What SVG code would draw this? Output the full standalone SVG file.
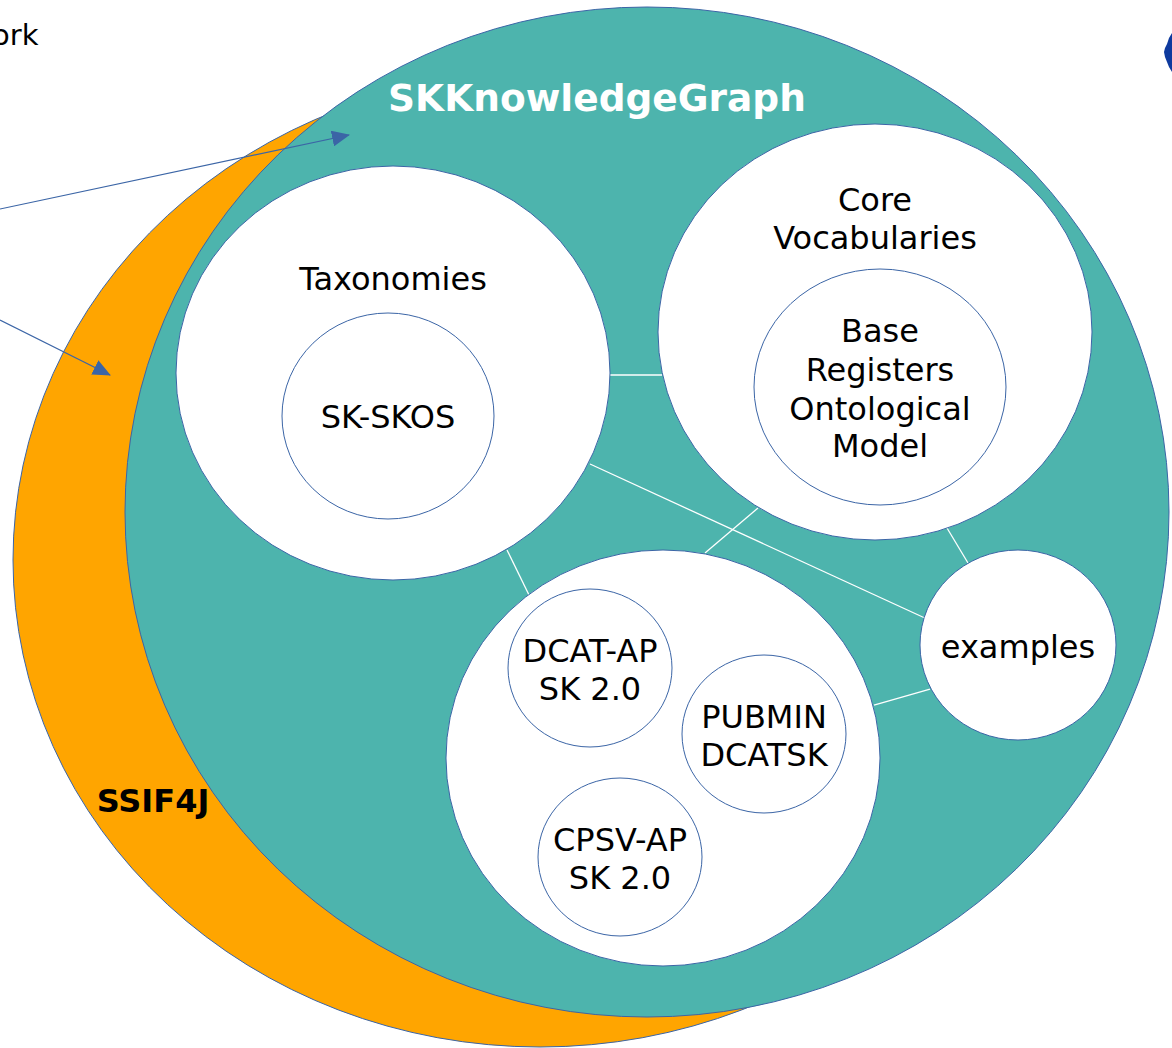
<svg xmlns="http://www.w3.org/2000/svg" width="1172" height="1048" viewBox="0 0 1172 1048">
<defs>
<marker id="arr" markerWidth="18" markerHeight="16" refX="17" refY="8" orient="auto" markerUnits="userSpaceOnUse">
<path d="M0,0 L18,8 L0,16 Z" fill="#3b65a6"/>
</marker>
<style>
.node{fill:#fff;stroke:#3b65a6;stroke-width:1}
.t{font-family:"DejaVu Sans",sans-serif;font-size:32px;fill:#000;text-anchor:middle}
.conn line{stroke:#fff;stroke-width:1.3}
.arrow{stroke:#3b65a6;stroke-width:1.2;fill:none}
</style>
</defs>
<rect width="1172" height="1048" fill="#fff"/>
<text x="-8" y="45" font-family="DejaVu Sans, sans-serif" font-size="29" fill="#000">ork</text>
<path d="M1172,33 L1169,38 L1167,44 L1165,48 L1164,52 L1165,57 L1167,62 L1169,67 L1172,72 Z" fill="#0e3a9e"/>
<g id="ssif4j">
<ellipse cx="540" cy="560" rx="527" ry="487" fill="#ffa500" stroke="#3b65a6" stroke-width="1"/>
<text x="153" y="812" font-family="DejaVu Sans, sans-serif" font-size="32" font-weight="bold" text-anchor="middle" fill="#000">SSIF4J</text>
</g>
<g id="skknowledgegraph">
<ellipse cx="647" cy="512" rx="522" ry="505" fill="#4db4ad" stroke="#3b65a6" stroke-width="1"/>
<text x="597" y="111" font-family="DejaVu Sans, sans-serif" font-size="37.5" font-weight="bold" text-anchor="middle" fill="#fff">SKKnowledgeGraph</text>
</g>
<g class="conn" id="connectors">
<line x1="610" y1="375" x2="662" y2="375"/>
<line x1="590" y1="464" x2="927" y2="619"/>
<line x1="758" y1="508" x2="705" y2="553"/>
<line x1="507" y1="550" x2="529" y2="595"/>
<line x1="947" y1="528" x2="968" y2="563"/>
<line x1="874" y1="705" x2="930" y2="689"/>
</g>
<g id="arrows">
<line class="arrow" x1="0" y1="209" x2="349" y2="135" marker-end="url(#arr)"/>
<line class="arrow" x1="0" y1="320" x2="110" y2="375" marker-end="url(#arr)"/>
</g>
<g id="taxonomies">
<ellipse class="node" cx="393" cy="373" rx="217" ry="207"/>
<text class="t" x="393" y="290">Taxonomies</text>
</g>
<g id="sk-skos">
<ellipse class="node" cx="388" cy="416" rx="106" ry="103"/>
<text class="t" x="388" y="428">SK-SKOS</text>
</g>
<g id="core-vocabularies">
<ellipse class="node" cx="875" cy="332" rx="217" ry="208"/>
<text class="t" x="875" y="211">Core</text>
<text class="t" x="875" y="249">Vocabularies</text>
</g>
<g id="base-registers">
<ellipse class="node" cx="880" cy="387" rx="126" ry="118"/>
<text class="t" x="880" y="342">Base</text>
<text class="t" x="880" y="381">Registers</text>
<text class="t" x="880" y="420">Ontological</text>
<text class="t" x="880" y="457">Model</text>
</g>
<g id="application-profiles">
<ellipse class="node" cx="663" cy="758" rx="217" ry="208"/>
</g>
<g id="dcat-ap">
<ellipse class="node" cx="590" cy="668" rx="82" ry="79"/>
<text class="t" x="590" y="662">DCAT-AP</text>
<text class="t" x="590" y="700">SK 2.0</text>
</g>
<g id="pubmin">
<ellipse class="node" cx="764" cy="734" rx="82" ry="79"/>
<text class="t" x="764" y="728">PUBMIN</text>
<text class="t" x="764" y="766">DCATSK</text>
</g>
<g id="cpsv-ap">
<ellipse class="node" cx="620" cy="857" rx="82" ry="79"/>
<text class="t" x="620" y="851">CPSV-AP</text>
<text class="t" x="620" y="889">SK 2.0</text>
</g>
<g id="examples">
<ellipse class="node" cx="1018" cy="645" rx="98" ry="95"/>
<text class="t" x="1018" y="658">examples</text>
</g>
</svg>
